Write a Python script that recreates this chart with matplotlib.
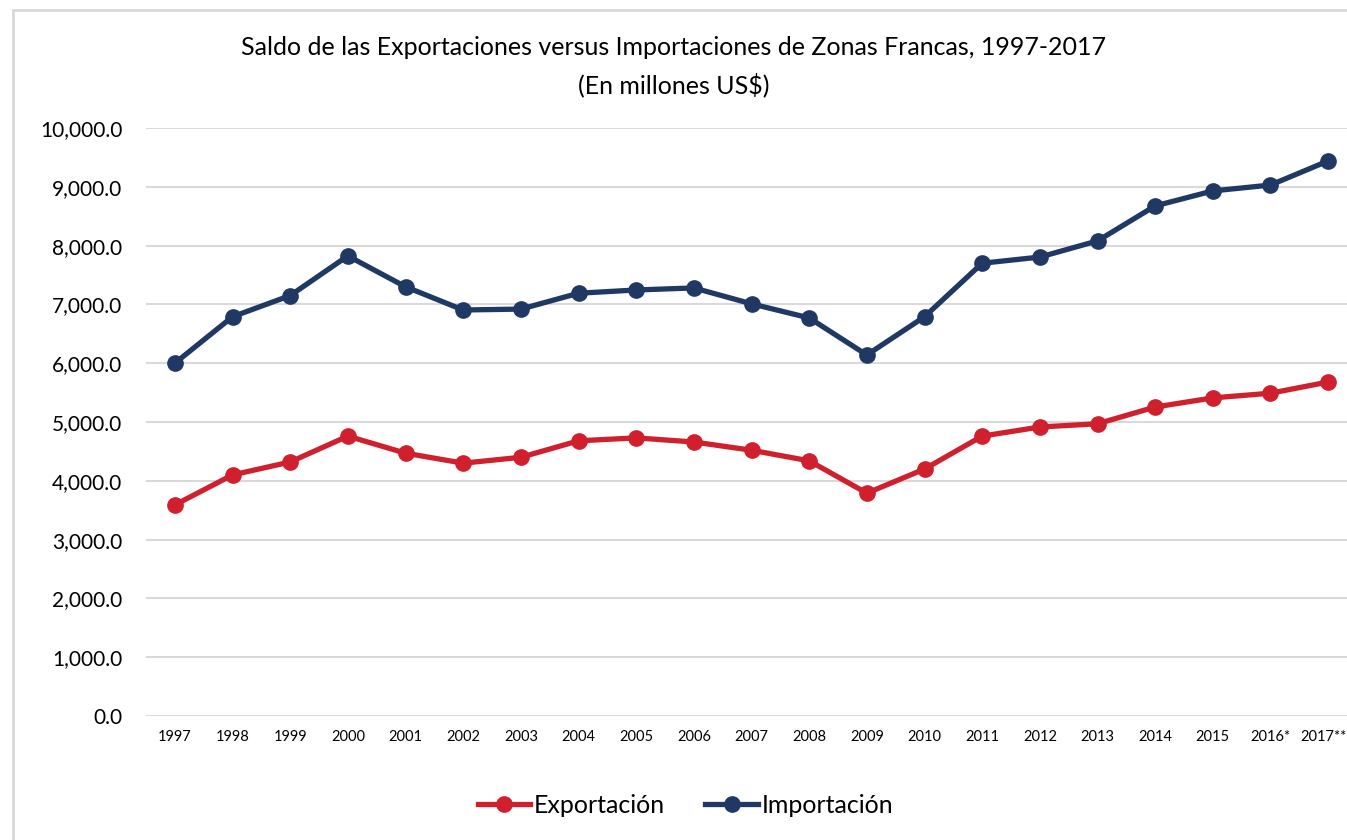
import matplotlib
matplotlib.use("Agg")
import matplotlib.pyplot as plt
from matplotlib.patches import Rectangle
from matplotlib.ticker import FuncFormatter
from matplotlib.transforms import ScaledTranslation

years = ["1997", "1998", "1999", "2000", "2001", "2002", "2003", "2004", "2005", "2006",
         "2007", "2008", "2009", "2010", "2011", "2012", "2013", "2014", "2015", "2016*", "2017**"]

exportacion = [3590, 4100, 4320, 4760, 4470, 4300, 4400, 4680, 4730, 4660,
               4520, 4340, 3790, 4200, 4760, 4915, 4970, 5255, 5410, 5490, 5680]

importacion = [6000, 6790, 7150, 7825, 7300, 6905, 6920, 7190, 7245, 7280,
               7010, 6770, 6140, 6790, 7700, 7805, 8080, 8675, 8930, 9030, 9440]

red = "#D0202E"
navy = "#203864"

plt.rcParams['font.family'] = ['Lato', 'DejaVu Sans']

fig = plt.figure(figsize=(13.47, 8.4), dpi=100)

# light frame around the chart
fig.patches.append(Rectangle((13 / 1347, -0.05), 1.1, (840 - 10) / 840 + 0.05,
                             transform=fig.transFigure, fill=False,
                             edgecolor="#D9D9D9", linewidth=2))

ax = fig.add_axes([146 / 1347, 124 / 840, (1357 - 146) / 1347, 588 / 840])
x = list(range(len(years)))

ax.plot(x, exportacion, '-o', color=red, lw=3.8, markersize=11, label="Exportación")
ax.plot(x, importacion, '-o', color=navy, lw=3.8, markersize=11, label="Importación")

ax.set_xlim(-0.5, len(years) - 0.5)
ax.set_ylim(0, 10000)
ax.set_yticks(range(0, 10001, 1000))
ax.yaxis.set_major_formatter(FuncFormatter(lambda v, p: f"{v:,.1f}"))
ax.set_xticks(x)
ax.set_xticklabels(years, fontsize=10.5)
ax.tick_params(axis='y', labelsize=15, length=0, pad=17)
ax.tick_params(axis='x', length=0, pad=10)
ax.grid(axis='y', color="#D9D9D9", linewidth=1.5)
ax.set_axisbelow(True)
for s in ax.spines.values():
    s.set_visible(False)

# last label sits right at the edge, pull it in a little
last = ax.get_xticklabels()[-1]
last.set_transform(last.get_transform() + ScaledTranslation(-5 / 100, 0, fig.dpi_scale_trans))

fig.text(0.5, 0.943, "Saldo de las Exportaciones versus Importaciones de Zonas Francas, 1997-2017",
         ha='center', va='center', fontsize=18)
fig.text(0.5, 0.899, "(En millones US$)", ha='center', va='center', fontsize=18)

fig.legend(loc='center', bbox_to_anchor=(0.509, 0.041), ncol=2, frameon=False,
           fontsize=18, handlelength=2.1, columnspacing=1.6, handletextpad=0.15)

fig.savefig("out.png", dpi=100)
